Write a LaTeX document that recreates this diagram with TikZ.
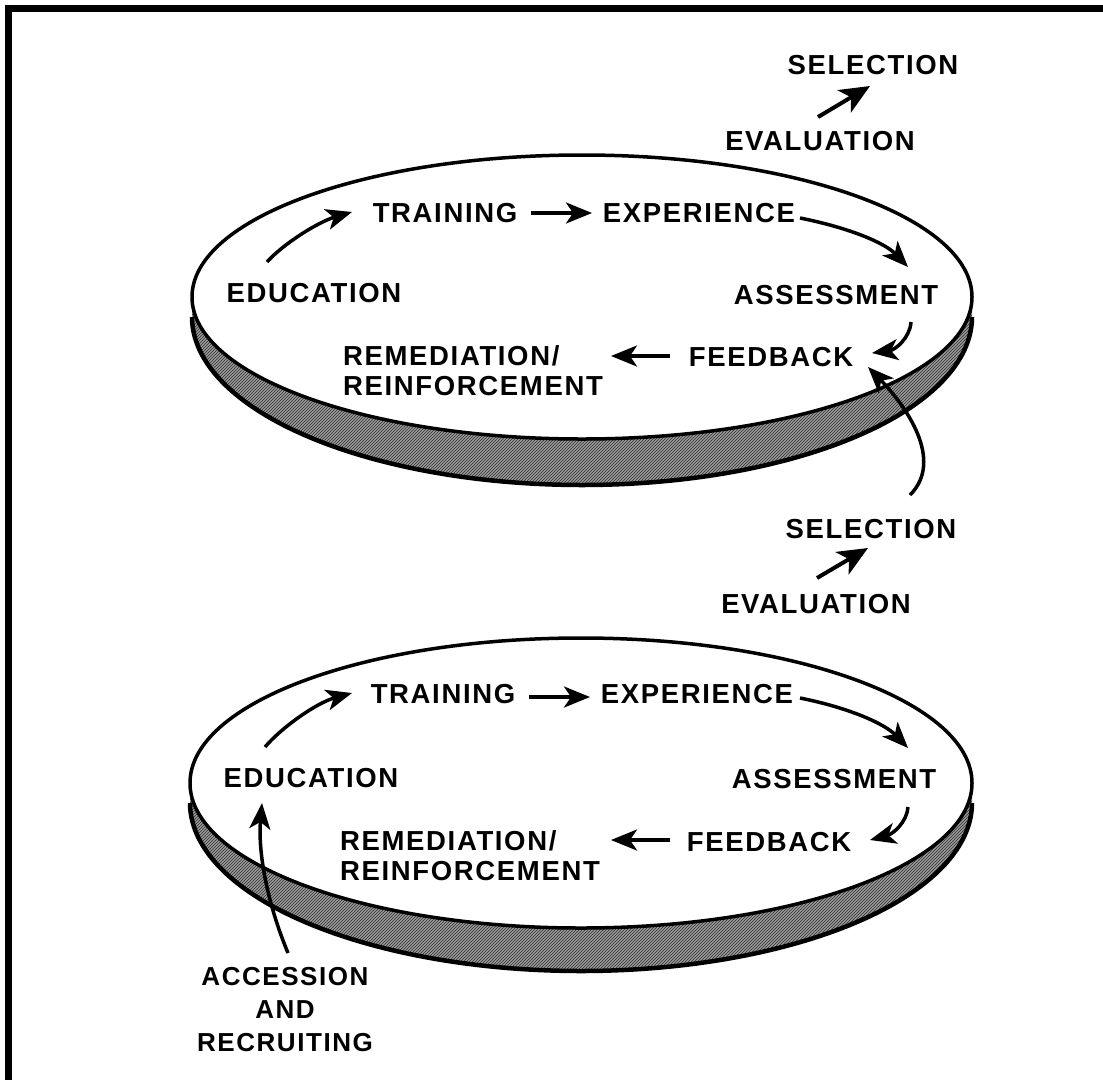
\documentclass[tikz,border=0pt]{standalone}
\usepackage{fontspec}
\setmainfont{Liberation Sans}
\newfontfamily\lblfont[LetterSpace=6]{Liberation Sans Bold}
\usetikzlibrary{arrows.meta,calc,patterns}
\begin{document}
\begin{tikzpicture}[x=1pt,y=-1pt,
  lbl/.style={inner sep=0pt, text height=20pt, text depth=0pt, font=\lblfont\fontsize{27.5}{30}\selectfont},
  mlbl/.style={inner sep=0pt, font=\lblfont\fontsize{27.5}{30}\selectfont},
  conn/.style={line width=3.5pt, -{Stealth[length=26pt,width=21pt,inset=7pt]}},
  bigconn/.style={line width=4pt, -{Stealth[length=30pt,width=26pt,inset=8pt]}},
  band/.style={fill=black!40, postaction={pattern=north east lines, pattern color=black!80}},
  rim/.style={line width=4.5pt},
  face/.style={line width=3.5pt, fill=white}]
\useasboundingbox (0,0) rectangle (1103,1080);
% frame (top and left only)
\fill (5,5) rectangle (1103,12);
\fill (5,5) rectangle (12,1080);

% ===== upper disk =====
\path[band] plot[domain=0:180,samples=90,smooth] ({582+390*cos(\x)},{297+142*sin(\x)})
  -- plot[domain=180:0,samples=90,smooth] ({582+390*cos(\x)},{317+168*sin(\x)}) -- cycle;
\draw[rim] plot[domain=0:180,samples=90,smooth] ({582+390*cos(\x)},{317+168*sin(\x)});
\draw[face] (582,297) ellipse [x radius=390, y radius=142];

% ===== lower disk =====
\path[band] plot[domain=0:180,samples=90,smooth] ({581+391*cos(\x)},{783+145*sin(\x)})
  -- plot[domain=180:0,samples=90,smooth] ({581+391*cos(\x)},{803+168*sin(\x)}) -- cycle;
\draw[rim] plot[domain=0:180,samples=90,smooth] ({581+391*cos(\x)},{803+168*sin(\x)});
\draw[face] (581,783) ellipse [x radius=391, y radius=145];

% ===== upper labels =====
\node[lbl] (selT) at (873,64) {SELECTION};
\node[lbl] (evT) at (820,140) {EVALUATION};
\node[lbl] (trn) at (445,212) {TRAINING};
\node[lbl] (exp) at (699,212) {EXPERIENCE};
\node[lbl] (edu) at (314,292) {EDUCATION};
\node[lbl] (ass) at (836,294) {ASSESSMENT};
\node[lbl] (fdb) at (771,356) {FEEDBACK};
\node[mlbl, align=left, anchor=north west] (rem) at (343,345) {REMEDIATION/\\REINFORCEMENT};

% ===== middle labels =====
\node[lbl] (selB) at (871,528) {SELECTION};
\node[lbl] (evB) at (816,603) {EVALUATION};

% ===== lower labels =====
\node[lbl] (trn2) at (443,693) {TRAINING};
\node[lbl] (exp2) at (697,693) {EXPERIENCE};
\node[lbl] (edu2) at (311,777) {EDUCATION};
\node[lbl] (ass2) at (834,778) {ASSESSMENT};
\node[lbl] (fdb2) at (769,841) {FEEDBACK};
\node[mlbl, align=left, anchor=north west] (rem2) at (340,830) {REMEDIATION/\\REINFORCEMENT};
\node[mlbl, align=center, anchor=north, font=\lblfont\fontsize{26}{33}\selectfont] (acc) at (285,967) {ACCESSION\\AND\\RECRUITING};

% ===== upper arrows =====
\draw[bigconn] ($(evT)+(-2,-23)$) -- ($(selT)+(-3,22)$);
\draw[conn] ($(edu)+(-47,-30)$) .. controls ($(edu)+(-31,-48)$) and ($(edu)+(4,-70)$) .. ($(trn)+(-93,0)$);
\draw[conn] ($(trn)+(86,1)$) -- ($(exp)+(-107,1)$);
\draw[conn] ($(exp)+(101,6)$) .. controls ($(exp)+(151,16)$) and ($(exp)+(186,31)$) .. ($(ass)+(72,-27)$);
\draw[conn] ($(ass)+(75,28)$) .. controls ($(ass)+(74,44)$) and ($(ass)+(59,56)$) .. ($(fdb)+(101,-3)$);
\draw[conn] ($(fdb)+(-101,0)$) -- ($(rem.north west)+(268,11)$);
\draw[conn] ($(selB)+(39,-33)$) .. controls ($(selB)+(74,-68)$) and ($(selB)+(34,-123)$) .. ($(fdb)+(97,11)$);

% ===== lower arrows =====
\draw[bigconn] ($(evB)+(1,-25)$) -- ($(selB)+(-3,20)$);
\draw[conn] ($(edu2)+(-46,-30)$) .. controls ($(edu2)+(-30,-49)$) and ($(edu2)+(5,-74)$) .. ($(trn2)+(-91,0)$);
\draw[conn] ($(trn2)+(86,4)$) -- ($(exp2)+(-107,4)$);
\draw[conn] ($(exp2)+(103,5)$) .. controls ($(exp2)+(153,15)$) and ($(exp2)+(188,31)$) .. ($(ass2)+(74,-30)$);
\draw[conn] ($(ass2)+(74,29)$) .. controls ($(ass2)+(73,44)$) and ($(ass2)+(59,56)$) .. ($(fdb2)+(101,-1)$);
\draw[conn] ($(fdb2)+(-99,-1)$) -- ($(rem2.north west)+(271,10)$);
\draw[conn] ($(acc.north)+(3,-14)$) .. controls ($(acc.north)+(-19,-67)$) and ($(acc.north)+(-27,-117)$) .. ($(edu2)+(-49,26)$);
\end{tikzpicture}
\end{document}
